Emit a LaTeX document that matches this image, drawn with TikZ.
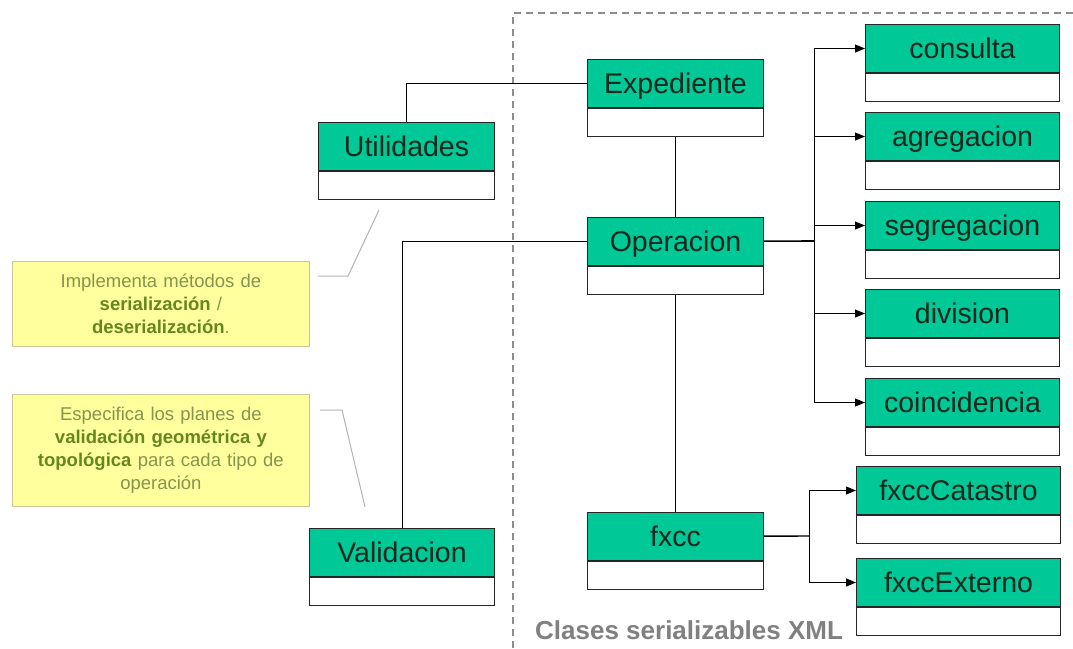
\documentclass[tikz,border=0pt]{standalone}
\usepackage{fontspec}
\setmainfont{Liberation Sans}
\usetikzlibrary{positioning}
\usetikzlibrary{arrows.meta}

\definecolor{clsgreen}{RGB}{0,200,150}
\definecolor{clstext}{RGB}{20,40,30}
\definecolor{notefill}{RGB}{255,255,158}
\definecolor{noteline}{RGB}{200,200,150}
\definecolor{notetext}{RGB}{135,148,75}
\definecolor{notebold}{RGB}{100,135,30}
\definecolor{framegray}{RGB}{128,128,128}

\newcommand{\notebf}[1]{\textcolor{notebold}{\textbf{#1}}}

\tikzset{
	cls/.style={draw=black!85,line width=1pt,fill=clsgreen,rectangle,anchor=north west,
		minimum height=48pt,inner sep=0pt,text height=25pt,text depth=5pt,
		font=\fontsize{28.5}{30}\selectfont,text=clstext},
	clsbody/.style={draw=black!85,line width=1pt,fill=white,rectangle,minimum height=28pt,inner sep=0pt},
	note/.style={draw=noteline,fill=notefill,line width=0.8pt,anchor=north west,align=center,
		inner sep=4pt,text width=289pt,text=notetext,font=\fontsize{18.5}{23}\selectfont},
	link/.style={line width=1pt,black},
	arrow/.style={link,-{Triangle[length=10pt,width=8pt]}},
	callout/.style={line width=1pt,black!30},
	frame/.style={draw=framegray!90,line width=2.4pt,dash pattern=on 7pt off 5pt},
}

\begin{document}
\begin{tikzpicture}[x=1pt,y=-1pt]
		\useasboundingbox (0,0) rectangle (1073,648);

		% serializable classes
		\draw[frame] (1073,13) -| (513,648);
		\node[anchor=base west,inner sep=0pt,text=framegray,font=\bfseries\fontsize{26}{30}\selectfont] (xmllabel) at (535,639) {Clases serializables XML};

		% main column
		\node[cls,minimum width=176pt] (expediente) at (587,59) {Expediente};
		\node[clsbody,minimum width=176pt,below=0pt of expediente] (expediente-body) {};
		\node[cls,minimum width=176pt] (operacion) at (587,217) {Operacion};
		\node[clsbody,minimum width=176pt,below=0pt of operacion] (operacion-body) {};
		\node[cls,minimum width=176pt] (fxcc) at (587,512) {fxcc};
		\node[clsbody,minimum width=176pt,below=0pt of fxcc] (fxcc-body) {};

		% helpers on the left
		\node[cls,minimum width=176pt] (utilidades) at (318,122) {Utilidades};
		\node[clsbody,minimum width=176pt,below=0pt of utilidades] (utilidades-body) {};
		\node[cls,minimum width=185pt] (validacion) at (309,528) {Validacion};
		\node[clsbody,minimum width=185pt,below=0pt of validacion] (validacion-body) {};

		% operation types
		\node[cls,minimum width=194pt] (consulta) at (865,24) {consulta};
		\node[clsbody,minimum width=194pt,below=0pt of consulta] (consulta-body) {};
		\node[cls,minimum width=194pt] (agregacion) at (865,112) {agregacion};
		\node[clsbody,minimum width=194pt,below=0pt of agregacion] (agregacion-body) {};
		\node[cls,minimum width=194pt] (segregacion) at (865,201) {segregacion};
		\node[clsbody,minimum width=194pt,below=0pt of segregacion] (segregacion-body) {};
		\node[cls,minimum width=194pt] (division) at (865,289) {division};
		\node[clsbody,minimum width=194pt,below=0pt of division] (division-body) {};
		\node[cls,minimum width=194pt] (coincidencia) at (865,378) {coincidencia};
		\node[clsbody,minimum width=194pt,below=0pt of coincidencia] (coincidencia-body) {};

		% fxcc types
		\node[cls,minimum width=204pt] (fxcccatastro) at (856,466) {fxccCatastro};
		\node[clsbody,minimum width=204pt,below=0pt of fxcccatastro] (fxcccatastro-body) {};
		\node[cls,minimum width=204pt] (fxccexterno) at (856,558) {fxccExterno};
		\node[clsbody,minimum width=204pt,below=0pt of fxccexterno] (fxccexterno-body) {};

		% notes
		\node[note,minimum height=85pt] (note-serial) at (12,261)
			{Implementa métodos de\\ \notebf{serialización} /\\ \notebf{deserialización}.};
		\node[note,minimum height=112pt] (note-valid) at (12,394)
			{Especifica los planes de\\ \notebf{validación geométrica y}\\ \notebf{topológica} para cada tipo de\\ operación};

		\coordinate (c1a) at (318,276);
		\coordinate (c1b) at (348,276);
		\coordinate (c1c) at (379,210);
		\coordinate (c2a) at (320,410);
		\coordinate (c2b) at (342,410);
		\coordinate (c2c) at (365,507);
		\draw[callout] (c1a) -- (c1b) -- (c1c);
		\draw[callout] (c2a) -- (c2b) -- (c2c);

		% associations
		\draw[link] (utilidades) |- (expediente);
		\draw[link] (expediente-body) -- (operacion);
		\draw[link] (operacion) -| (validacion);
		\draw[link] (operacion-body) -- (fxcc);

		\coordinate (opbranch) at (814,241);
		\draw[link,line width=1.6pt] (operacion) -- (opbranch);
		\foreach \op in {consulta,agregacion,segregacion,division,coincidencia}
			\draw[arrow] (opbranch) |- (\op);

		\coordinate (fxbranch) at (809,536);
		\draw[link,line width=1.4pt] (fxcc) -- (fxbranch);
		\draw[arrow] (fxbranch) |- (fxcccatastro);
		\draw[arrow] (fxbranch) |- (fxccexterno);
	\end{tikzpicture}
\end{document}
